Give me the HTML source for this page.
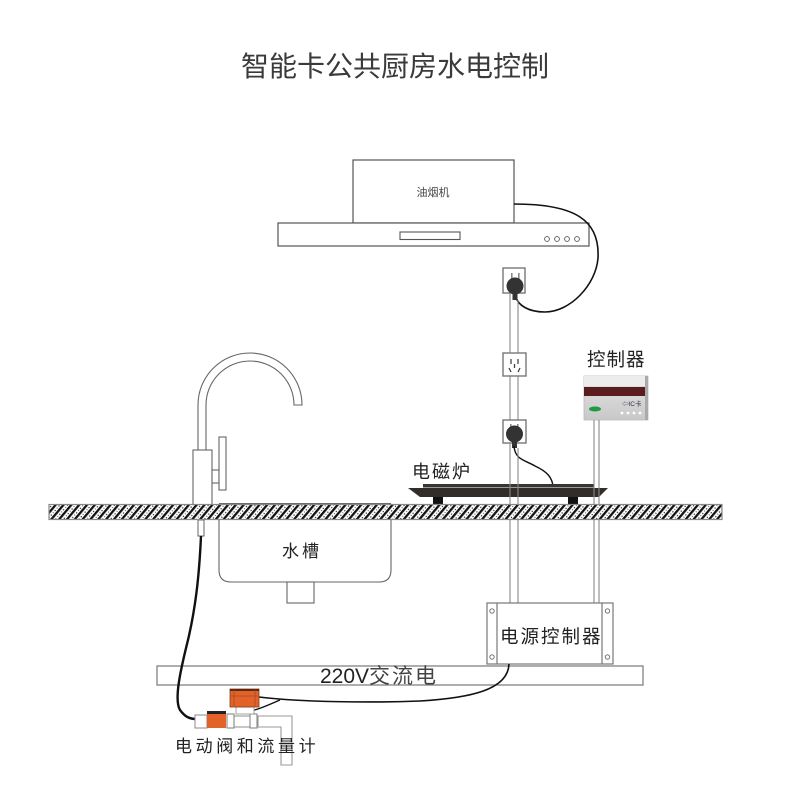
<!DOCTYPE html>
<html><head><meta charset="utf-8"><style>
html,body{margin:0;padding:0;background:#fff;}
svg{display:block;}
text{font-family:"Liberation Sans","Noto Sans CJK SC",sans-serif;}
</style></head><body>
<svg width="800" height="792" viewBox="0 0 800 792" xmlns="http://www.w3.org/2000/svg">
<defs>
<pattern id="h" width="6" height="6" patternUnits="userSpaceOnUse" patternTransform="rotate(40)">
<rect width="6" height="6" fill="#fff"/>
<rect x="0" y="0" width="2.3" height="6" fill="#111"/>
<rect x="3.8" y="1" width="1.2" height="1.2" fill="#222"/>
<rect x="3.8" y="4" width="1" height="1" fill="#444"/>
</pattern>
<linearGradient id="dev" x1="0" y1="0" x2="0" y2="1">
<stop offset="0" stop-color="#e4e4e4"/><stop offset="1" stop-color="#c8c8c8"/>
</linearGradient>
</defs>

<!-- title -->
<text x="395" y="76" font-size="28" fill="#3a3a3a" text-anchor="middle">智能卡公共厨房水电控制</text>

<!-- range hood -->
<rect x="353" y="160" width="161" height="63" fill="#fff" stroke="#555" stroke-width="1.2"/>
<text x="433" y="196" font-size="11" fill="#444" text-anchor="middle" font-family="'Noto Serif CJK SC',serif">油烟机</text>
<rect x="278" y="223" width="311" height="23" fill="#fff" stroke="#555" stroke-width="1.2"/>
<rect x="400" y="232" width="60" height="7.5" fill="#fff" stroke="#555" stroke-width="1.1"/>
<g fill="#fff" stroke="#555" stroke-width="0.9">
<circle cx="547" cy="239" r="2.4"/><circle cx="557" cy="239" r="2.4"/><circle cx="567" cy="239" r="2.4"/><circle cx="577" cy="239" r="2.4"/>
</g>
<path d="M514,204 C575,204 600,220 598,258 C596,285 570,312 545,312 C528,312 518,305 516,297" fill="none" stroke="#111" stroke-width="1.6"/>

<!-- outlets -->
<rect x="503" y="268" width="22" height="25" fill="#fff" stroke="#777" stroke-width="1.4"/>
<rect x="511" y="273" width="1.6" height="6" fill="#888"/><rect x="518" y="273" width="1.6" height="6" fill="#888"/>
<circle cx="515" cy="286" r="8.5" fill="#333"/>
<rect x="512.5" y="290" width="5" height="10" fill="#333"/>

<rect x="503" y="353" width="23" height="23" fill="#fff" stroke="#777" stroke-width="1.4"/>
<g stroke="#444" stroke-width="1.3">
<line x1="511" y1="359" x2="511" y2="364"/><line x1="518" y1="359" x2="518" y2="364"/>
<line x1="514.5" y1="364" x2="514.5" y2="368"/>
<line x1="509" y1="368" x2="511" y2="372"/><line x1="520" y1="368" x2="518" y2="372"/>
</g>

<rect x="503" y="420" width="23" height="23" fill="#fff" stroke="#777" stroke-width="1.4"/>
<rect x="510" y="424" width="1.6" height="6" fill="#888"/><rect x="517" y="424" width="1.6" height="6" fill="#888"/>
<circle cx="514.5" cy="434" r="8.5" fill="#333"/>
<rect x="512" y="438" width="5" height="10" fill="#333"/>
<path d="M514,446 C515,460 525,460 535,466 C548,472 552,478 553,486" fill="none" stroke="#111" stroke-width="1.4"/>

<!-- conduit segments above -->
<g stroke="#888" stroke-width="1.1">
<line x1="510" y1="293" x2="510" y2="353"/><line x1="518" y1="300" x2="518" y2="353"/>
<line x1="510" y1="376" x2="510" y2="420"/><line x1="518" y1="376" x2="518" y2="420"/>
</g>

<!-- controller -->
<text x="587" y="366" font-size="18.5" fill="#222" letter-spacing="1">控制器</text>
<rect x="584" y="376" width="64" height="44" fill="url(#dev)" stroke="#bbb" stroke-width="0.8"/>
<rect x="584" y="376" width="64" height="10" fill="#ececec"/>
<rect x="584" y="387" width="64" height="9" fill="#5a1c1c"/>
<rect x="645" y="376" width="3" height="44" fill="#aaa"/>
<ellipse cx="595" cy="409" rx="6" ry="2.5" fill="#1f9a3e"/>
<text x="622" y="406" font-size="6.5" fill="#334" font-family="'Liberation Serif',serif">⇦IC卡</text>
<g fill="#fff"><circle cx="622" cy="413" r="1.4"/><circle cx="628" cy="413" r="1.4"/><circle cx="634" cy="413" r="1.4"/><circle cx="640" cy="413" r="1.4"/></g>

<!-- faucet -->
<path d="M198,450 L198,405 A52,52 0 0 1 302,405 L294,405 A44,44 0 0 0 206,405 L206,450 Z" fill="#fff" stroke="#666" stroke-width="1.1"/>
<rect x="193" y="450" width="19" height="55" fill="#fff" stroke="#666" stroke-width="1.1"/>
<rect x="212" y="470" width="7" height="13" fill="#fff" stroke="#666" stroke-width="1.1"/>
<rect x="219" y="437" width="7" height="53" fill="#fff" stroke="#666" stroke-width="1.1"/>

<!-- cooktop -->
<text x="412" y="478" font-size="18" fill="#222" letter-spacing="2">电磁炉</text>
<rect x="423" y="484" width="171" height="3.5" fill="#3a3533"/>
<polygon points="408,488 608,488 599,497 420,497" fill="#332d2a"/>
<rect x="433" y="497" width="10" height="7" fill="#111"/>
<rect x="568" y="497" width="10" height="7" fill="#111"/>

<!-- sink -->
<path d="M219,520 L219,570 Q219,582 231,582 L379,582 Q391,582 391,570 L391,520" fill="#fff" stroke="#666" stroke-width="1.1"/>
<line x1="219" y1="503.5" x2="391" y2="503.5" stroke="#666" stroke-width="1.1"/>
<rect x="287" y="582" width="27" height="21" fill="#fff" stroke="#666" stroke-width="1.1"/>
<text x="282" y="557" font-size="17" fill="#222" letter-spacing="3">水槽</text>

<!-- faucet under pipe -->
<rect x="198" y="520" width="6" height="16" fill="#fff" stroke="#666" stroke-width="1"/>

<!-- conduits lower -->
<g stroke="#888" stroke-width="1.1">
<line x1="510" y1="443" x2="510" y2="603"/><line x1="518" y1="448" x2="518" y2="603"/>
<line x1="594" y1="420" x2="594" y2="603"/><line x1="599" y1="420" x2="599" y2="603"/>
</g>

<!-- countertop -->
<rect x="49" y="504.5" width="673" height="15" fill="url(#h)" stroke="#888" stroke-width="1.2"/>

<!-- power controller -->
<rect x="487" y="603" width="126" height="61" fill="#fff" stroke="#777" stroke-width="1.2"/>
<line x1="497" y1="603" x2="497" y2="664" stroke="#777" stroke-width="1.2"/>
<line x1="602" y1="603" x2="602" y2="664" stroke="#777" stroke-width="1.2"/>
<g fill="#fff" stroke="#666" stroke-width="0.9">
<circle cx="492" cy="611" r="2.2"/><circle cx="492" cy="657" r="2.2"/><circle cx="607.5" cy="611" r="2.2"/><circle cx="607.5" cy="657" r="2.2"/>
</g>
<text x="500" y="643" font-size="18.5" fill="#222" letter-spacing="2">电源控制器</text>

<!-- 220V bar -->
<rect x="157" y="666" width="486" height="19" fill="#fff" stroke="#777" stroke-width="1.2"/>
<text x="320" y="683" font-size="21" fill="#222">220V<tspan fill="#444" letter-spacing="2">交流电</tspan></text>

<!-- cables -->
<path d="M201,536 C199,580 195,610 188,640 C180,672 174,700 180,710 C185,717 190,719 196,719" fill="none" stroke="#111" stroke-width="2.4"/>
<path d="M509,664 C508,690 470,698 420,701 C370,703 300,702 259,697" fill="none" stroke="#111" stroke-width="1.6"/>
<path d="M280,700 C268,705 258,710 246,712" fill="none" stroke="#111" stroke-width="1.4"/>

<!-- valves and pipe -->
<path d="M258,716 L292,716 L292,765 L281,765 L281,727 L258,727" fill="#fff" stroke="#999" stroke-width="1.1"/>
<rect x="234" y="716" width="24" height="11" fill="#fff" stroke="#999" stroke-width="1.1"/>
<rect x="227" y="714" width="7" height="14" fill="#fff" stroke="#888" stroke-width="1.1"/>
<rect x="250" y="714" width="7" height="14" fill="#fff" stroke="#888" stroke-width="1.1"/>
<rect x="236" y="707" width="18" height="7" fill="#fff" stroke="#999" stroke-width="0.9"/>
<rect x="230" y="689" width="29" height="18" fill="#e2622a" stroke="#8a3a18" stroke-width="0.8"/>
<rect x="230" y="689" width="29" height="2" fill="#5a2a10"/>
<line x1="231" y1="696" x2="258" y2="696" stroke="#a84a20" stroke-width="0.8"/>
<line x1="234" y1="690" x2="234" y2="706" stroke="#a84a20" stroke-width="0.8"/>
<line x1="255" y1="690" x2="255" y2="706" stroke="#a84a20" stroke-width="0.8"/>
<rect x="195" y="715" width="12" height="13" fill="#fff" stroke="#888" stroke-width="1"/>
<rect x="207" y="711" width="19" height="17" fill="#e2622a"/>
<rect x="207" y="711" width="19" height="3" fill="#222"/>

<text x="175" y="752" font-size="17" fill="#222" letter-spacing="3.6">电动阀和流量计</text>
</svg>
</body></html>
